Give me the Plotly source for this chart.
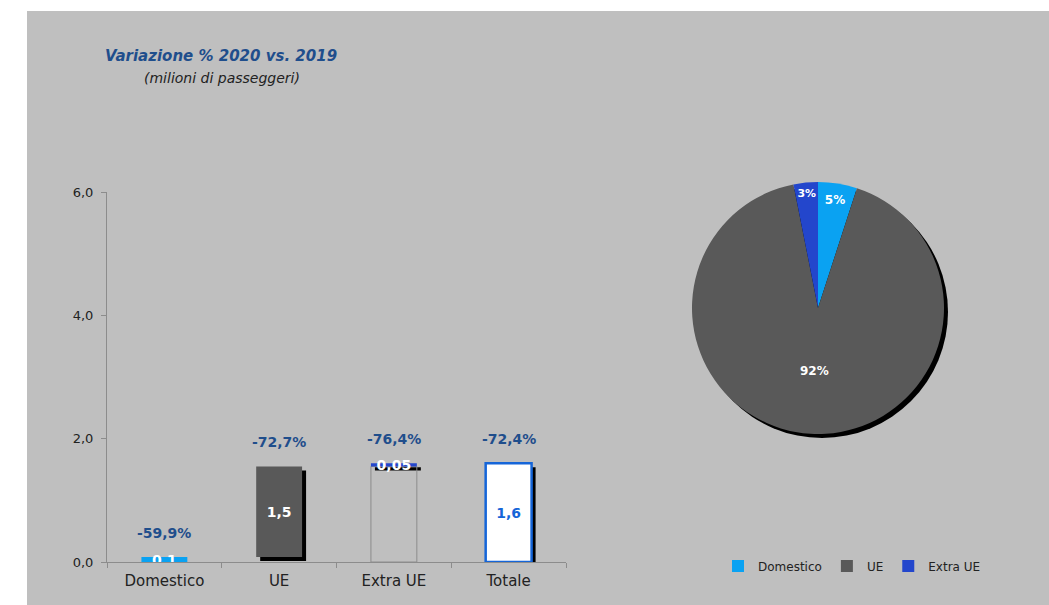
import numpy as np
import plotly.graph_objects as go

# ---------------- data ----------------
categories = ["Domestico", "UE", "Extra UE", "Totale"]
segments = ["Domestico", "UE", "Extra UE"]
passengers_mln = [0.08, 1.47, 0.05]          # milioni di passeggeri 2020
variation_pct = [-59.9, -72.7, -76.4, -72.4]  # variazione % 2020 vs 2019
y_ticks = [0, 2, 4, 6]
y_tick_labels = ["0,0", "2,0", "4,0", "6,0"]

total = float(np.sum(passengers_mln))
bar_values = passengers_mln + [total]
bar_bases = list(np.concatenate([[0], np.cumsum(passengers_mln)[:-1]])) + [0]
bar_tops = [b + v for b, v in zip(bar_bases, bar_values)]
bar_text = ["0,1", "1,5", "0,05", "1,6"]

def fmt_pct(v):
    return f"{v:.1f}%".replace(".", ",")

# ---------------- style ----------------
W, H = 1049, 605
C_DOM = "#0AA2F2"
C_UE = "#595959"
C_EXT = "#2346CC"
C_TOT_LINE = "#1565D8"
C_TITLE = "#1F4E8C"
FONT = "DejaVu Sans, Liberation Sans, Arial, sans-serif"

px_per_cat = (566 - 107) / 4
px_per_unit = (562 - 192) / 6
sh_dx = 4 / px_per_cat
sh_dy = 4 / px_per_unit

fig = go.Figure()

# shadow bars (UE, Extra UE, Totale)
shadow_mask = [False, True, True, True]
fig.add_trace(go.Bar(
    x=categories,
    y=[v if m else None for v, m in zip(bar_values, shadow_mask)],
    base=[b - sh_dy if m else None for b, m in zip(bar_bases, shadow_mask)],
    width=0.4, offset=-0.2 + sh_dx,
    marker=dict(color="#000000", line=dict(width=0)),
    hoverinfo="skip", showlegend=False,
))

# invisible base of Extra UE (outlined only)
fig.add_trace(go.Bar(
    x=[categories[2]], y=[bar_bases[2]], base=[0],
    width=0.4, offset=-0.2,
    marker=dict(color="rgba(0,0,0,0)", line=dict(color="#8c8c8c", width=1)),
    hoverinfo="skip", showlegend=False,
))

# main waterfall bars
fig.add_trace(go.Bar(
    x=categories, y=bar_values, base=bar_bases,
    width=0.4, offset=-0.2,
    marker=dict(color=[C_DOM, C_UE, C_EXT, "#FFFFFF"],
                line=dict(color=[C_DOM, C_UE, C_EXT, C_TOT_LINE], width=[0, 0, 0, 2.5])),
    text=bar_text, textposition="inside", insidetextanchor="middle",
    constraintext="none",
    textfont=dict(family=FONT, size=14, color=["#FFFFFF", "#FFFFFF", "#FFFFFF", C_TOT_LINE],
                  weight="bold"),
    hoverinfo="skip", showlegend=False,
))

# pie shadow
pie_x0, pie_x1 = 692 / W, 944 / W
pie_y0, pie_y1 = (605 - 434) / H, (605 - 182) / H
dx, dy = 4 / W, 4 / H
fig.add_trace(go.Pie(
    values=[1], labels=["shadow"], marker=dict(colors=["#000000"]),
    domain=dict(x=[pie_x0 + dx, pie_x1 + dx], y=[pie_y0 - dy, pie_y1 - dy]),
    textinfo="none", hoverinfo="skip", showlegend=False, sort=False,
))

# pie
fig.add_trace(go.Pie(
    values=passengers_mln, labels=segments, sort=False,
    direction="clockwise", rotation=0,
    marker=dict(colors=[C_DOM, C_UE, C_EXT], line=dict(width=0)),
    domain=dict(x=[pie_x0, pie_x1], y=[pie_y0, pie_y1]),
    texttemplate="%{percent:.0%}", textposition="inside",
    insidetextorientation="horizontal",
    textfont=dict(family=FONT, size=12, color="#FFFFFF", weight="bold"),
    showlegend=True,
))

annotations = []
for c, top, v in zip(categories, bar_tops, variation_pct):
    annotations.append(dict(
        x=c, y=top, xref="x", yref="y", text=fmt_pct(v), showarrow=False,
        xanchor="center", yanchor="bottom", yshift=14,
        font=dict(family=FONT, size=14, color=C_TITLE, weight="bold"),
    ))
annotations.append(dict(
    x=221 / W, y=(605 - 56) / H, xref="paper", yref="paper",
    xanchor="center", yanchor="middle",
    text="<b><i>Variazione % 2020 vs. 2019</i></b>", showarrow=False,
    font=dict(family=FONT, size=15, color=C_TITLE),
))
annotations.append(dict(
    x=222 / W, y=(605 - 78) / H, xref="paper", yref="paper",
    xanchor="center", yanchor="middle",
    text="<i>(milioni di passeggeri)</i>", showarrow=False,
    font=dict(family=FONT, size=14, color="#222222"),
))

fig.update_layout(
    width=W, height=H,
    margin=dict(l=0, r=0, t=0, b=0, pad=0, autoexpand=False),
    paper_bgcolor="#FFFFFF", plot_bgcolor="rgba(0,0,0,0)",
    barmode="overlay", separators=",.",
    font=dict(family=FONT, size=13, color="#222222"),
    shapes=[dict(type="rect", xref="paper", yref="paper",
                 x0=27 / W, x1=1, y0=0, y1=(605 - 11) / H,
                 fillcolor="#BFBFBF", line=dict(width=0), layer="below")],
    annotations=annotations,
    xaxis=dict(domain=[107 / W, 566 / W], range=[-0.5, 3.5],
               showline=True, linecolor="#8c8c8c", linewidth=1,
               ticks="outside", tickson="boundaries", ticklen=5, tickcolor="#8c8c8c",
               showgrid=False, zeroline=False, ticklabelstandoff=5,
               tickfont=dict(family=FONT, size=15, color="#222222")),
    yaxis=dict(domain=[(605 - 562) / H, (605 - 192) / H], range=[0, 6],
               tickvals=y_ticks, ticktext=y_tick_labels,
               showline=True, linecolor="#8c8c8c", linewidth=1,
               ticks="outside", ticklen=5, tickcolor="#8c8c8c",
               showgrid=False, zeroline=False, ticklabelstandoff=5,
               tickfont=dict(family=FONT, size=13, color="#222222")),
    legend=dict(orientation="h", x=718 / W, y=(605 - 566) / H,
                xanchor="left", yanchor="middle", bgcolor="rgba(0,0,0,0)",
                font=dict(family=FONT, size=12, color="#222222"),
                itemwidth=30, tracegroupgap=0),
)

fig.write_html(
    "out.html",
    post_script="document.body.style.margin='0';document.body.style.padding='0';"
                "document.body.style.overflow='hidden';",
)
